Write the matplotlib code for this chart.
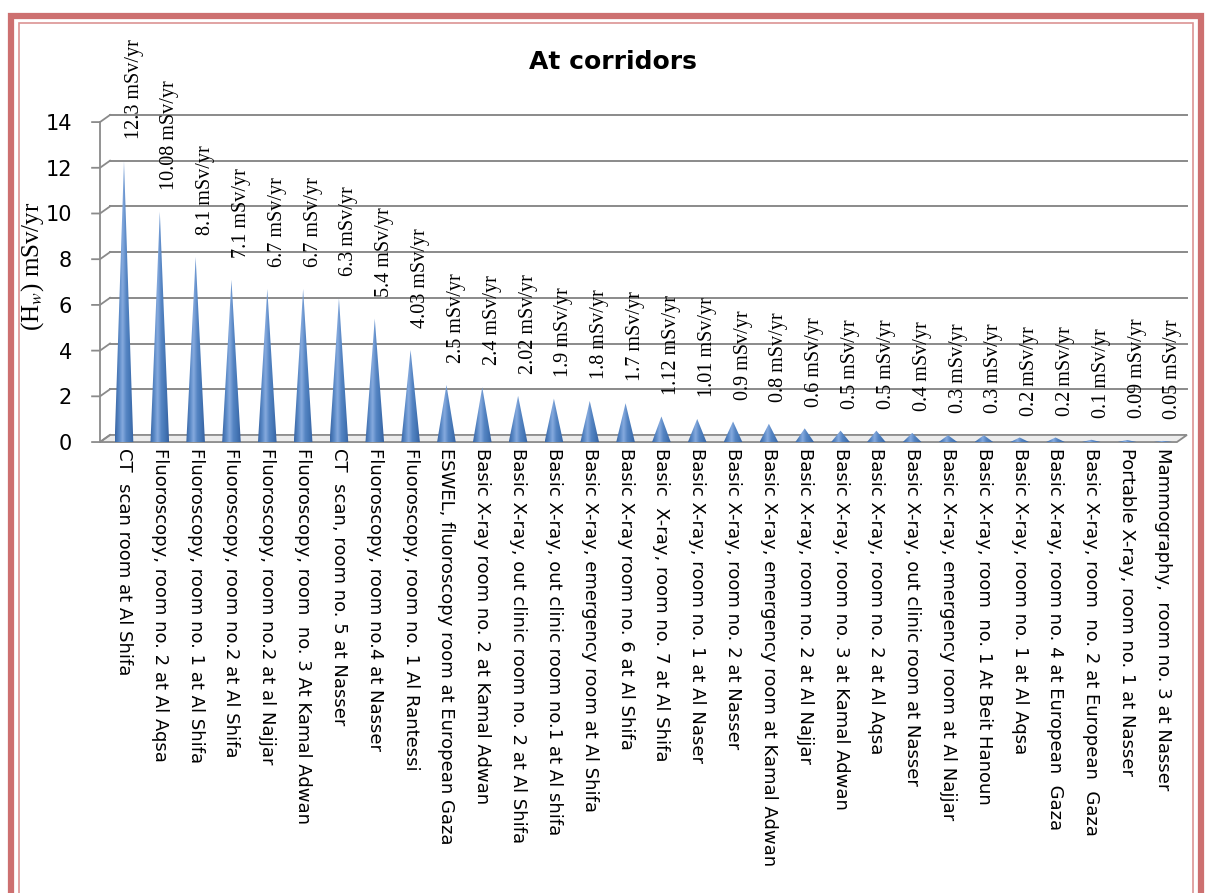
import numpy as np
import matplotlib.pyplot as plt
from matplotlib.patches import Polygon, Rectangle
from matplotlib.colors import LinearSegmentedColormap

rooms = [
    "CT  scan room at Al Shifa",
    "Fluoroscopy, room no. 2 at Al Aqsa",
    "Fluoroscopy, room no. 1 at Al Shifa",
    "Fluoroscopy, room no.2 at Al Shifa",
    "Fluoroscopy, room no.2 at al Najjar",
    "Fluoroscopy, room  no. 3 At Kamal Adwan",
    "CT  scan, room no. 5 at Nasser",
    "Fluoroscopy, room no.4 at Nasser",
    "Fluoroscopy, room no. 1 Al Rantessi",
    "ESWEL, fluoroscopy room at European Gaza",
    "Basic X-ray room no. 2 at Kamal Adwan",
    "Basic X-ray, out clinic room no. 2 at Al Shifa",
    "Basic X-ray, out clinic room no.1 at Al shifa",
    "Basic X-ray, emergency room at Al Shifa",
    "Basic X-ray room no. 6 at Al Shifa",
    "Basic  X-ray, room no. 7 at Al Shifa",
    "Basic X-ray, room no. 1 at Al Naser",
    "Basic X-ray, room no. 2 at Nasser",
    "Basic X-ray, emergency room at Kamal Adwan",
    "Basic X-ray, room no. 2 at Al Najjar",
    "Basic X-ray, room no. 3 at Kamal Adwan",
    "Basic X-ray, room no. 2 at Al Aqsa",
    "Basic X-ray, out clinic room at Nasser",
    "Basic X-ray, emergency room at Al Najjar",
    "Basic X-ray, room  no. 1 At Beit Hanoun",
    "Basic X-ray, room no. 1 at Al Aqsa",
    "Basic X-ray, room no. 4 at European  Gaza",
    "Basic X-ray, room  no. 2 at European  Gaza",
    "Portable X-ray, room no. 1 at Nasser",
    "Mammography,  room no. 3 at Nasser",
]
dose = [12.3, 10.08, 8.1, 7.1, 6.7, 6.7, 6.3, 5.4, 4.03, 2.5,
        2.4, 2.02, 1.9, 1.8, 1.7, 1.12, 1.01, 0.9, 0.8, 0.6,
        0.5, 0.5, 0.4, 0.3, 0.3, 0.2, 0.2, 0.1, 0.09, 0.05]
yticks = [0, 2, 4, 6, 8, 10, 12, 14]

plt.rcParams["mathtext.fontset"] = "stix"

fig = plt.figure(figsize=(12.06, 8.93), dpi=100)
ax = fig.add_axes([0.0829, 0.505, 0.893, 0.3583])

x = np.arange(len(dose))
x0, x1 = -0.67, 29.39
dx, dy = 0.28, 0.31  # depth offset of the back wall
grid_c = "#8a8a8a"

# floor
floor = Polygon([[x0, 0], [x1, 0], [x1 + dx, dy], [x0 + dx, dy]], closed=True,
                facecolor="#ececec", edgecolor=grid_c, lw=1.3, zorder=1, clip_on=False)
ax.add_patch(floor)

# back wall grid, ticks and left edge
for t in yticks[1:]:
    ax.plot([x0 + dx, x1 + dx], [t + dy, t + dy], color=grid_c, lw=1.4, zorder=1, clip_on=False)
for t in yticks:
    ax.plot([x0 - 0.22, x0, x0 + dx], [t, t, t + dy], color=grid_c, lw=1.3, zorder=1, clip_on=False)
ax.plot([x0, x0], [0, 14], color=grid_c, lw=1.3, zorder=1, clip_on=False)

# cones
cmap = LinearSegmentedColormap.from_list(
    "cone", ["#3a66a4", "#5686c4", "#86aade", "#5585c3", "#4576b5", "#3761a0"])
grad = np.linspace(0, 1, 64)[None, :]
hw = 0.26
for i, v in enumerate(dose):
    tri = Polygon([[i - hw, 0], [i + hw, 0], [i, v]], closed=True,
                  facecolor="none", edgecolor="none")
    ax.add_patch(tri)
    im = ax.imshow(grad, cmap=cmap, extent=[i - hw, i + hw, 0, v],
                   aspect="auto", origin="lower", zorder=3, interpolation="bilinear")
    im.set_clip_path(tri)
    ax.text(i + 0.28, v + 0.95, f"{v:g} mSv/yr", rotation=90, ha="center", va="bottom",
            fontsize=14.5, family="Liberation Serif", clip_on=False, zorder=4)

ax.set_xlim(x0, x1)
ax.set_ylim(0, 14)
for s in ax.spines.values():
    s.set_visible(False)
ax.set_yticks(yticks)
ax.set_yticklabels([str(t) for t in yticks], fontsize=15)
ax.set_xticks(x)
ax.set_xticklabels(rooms, rotation=270, ha="center", va="top", fontsize=13)
ax.tick_params(axis="y", length=0, pad=20)
ax.tick_params(axis="x", length=0, pad=4)
ax.set_ylabel("(H$_w$) mSv/yr", fontsize=18, family="Liberation Serif", labelpad=2)
ax.yaxis.set_label_coords(-0.05, 0.55)

fig.text(0.508, 0.9306, "At corridors", ha="center", va="center",
         fontsize=18, fontweight="bold")

# red frame
fig.add_artist(Rectangle((11 / 1206, -0.02), 1190 / 1206, (893 - 16) / 893 + 0.02,
                         transform=fig.transFigure, fill=False, edgecolor="#cd7070", lw=4.5))
fig.add_artist(Rectangle((19 / 1206, -0.02), 1174 / 1206, (893 - 23) / 893 + 0.02,
                         transform=fig.transFigure, fill=False, edgecolor="#dc9494", lw=1.2))

fig.savefig("out.png", dpi=100)
